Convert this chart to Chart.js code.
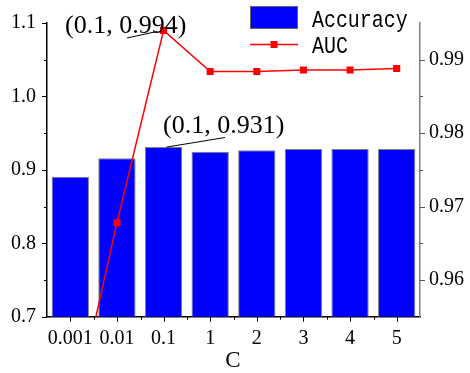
<!DOCTYPE html>
<html>
<head>
<meta charset="utf-8">
<script src="https://cdn.jsdelivr.net/npm/chart.js@4/dist/chart.umd.min.js"></script>
<style>
  html, body { margin: 0; padding: 0; background: #fff; }
  #wrap { width: 470px; height: 373px; }
</style>
</head>
<body>
<div id="wrap"><canvas id="chart" width="470" height="373"></canvas></div>
<script>
/* -------------------- DATA -------------------- */
const cValues = ["0.001", "0.01", "0.1", "1", "2", "3", "4", "5"];
const accuracy = [0.8906, 0.9157, 0.931, 0.9245, 0.9268, 0.9285, 0.9285, 0.9285];
const auc = [0.9394, 0.9678, 0.994, 0.9884, 0.9884, 0.9886, 0.9886, 0.9888];

const accTicks = [0.7, 0.8, 0.9, 1.0, 1.1];
const aucTicks = [0.96, 0.97, 0.98, 0.99];

// callouts: [category index, dataset, text]
const callouts = [
    { index: 2, series: "auc", text: "(0.1, 0.994)" },
    { index: 2, series: "acc", text: "(0.1, 0.931)" }
];

const SERIF = "'Liberation Serif', 'Times New Roman', serif";

/* -------------------- AXIS TICK MARKS (major + minor) -------------------- */
const tickMarks = {
    id: "tickMarks",
    afterDraw(chart) {
        const ctx = chart.ctx;
        const { x, y, y1 } = chart.scales;
        const area = chart.chartArea;
        ctx.save();
        ctx.lineWidth = 1;

        // left axis, outward
        ctx.strokeStyle = "#000";
        for (let v = 0.75; v < 1.1; v += 0.05) {
            const py = Math.round(y.getPixelForValue(v)) + 0.5;
            const major = Math.abs(v * 10 - Math.round(v * 10)) < 1e-6;
            ctx.beginPath();
            ctx.moveTo(area.left, py);
            ctx.lineTo(area.left - (major ? 5 : 3), py);
            ctx.stroke();
        }
        ctx.beginPath();
        ctx.moveTo(area.left, Math.round(area.top) + 0.5);
        ctx.lineTo(area.left - 5, Math.round(area.top) + 0.5);
        ctx.moveTo(area.left, Math.round(area.bottom) + 0.5);
        ctx.lineTo(area.left - 5, Math.round(area.bottom) + 0.5);
        ctx.stroke();

        // right axis, outward
        ctx.strokeStyle = "#555";
        for (let v = 0.96; v < 0.995; v += 0.005) {
            const py = Math.round(y1.getPixelForValue(v)) + 0.5;
            const major = Math.abs(v * 100 - Math.round(v * 100)) < 1e-6;
            ctx.beginPath();
            ctx.moveTo(area.right, py);
            ctx.lineTo(area.right + (major ? 5 : 3), py);
            ctx.stroke();
        }

        // bottom axis: centres major, boundaries minor
        ctx.strokeStyle = "#000";
        const half = (x.getPixelForValue(1) - x.getPixelForValue(0)) / 2;
        cValues.forEach((c, i) => {
            const px = Math.round(x.getPixelForValue(i)) + 0.5;
            ctx.beginPath();
            ctx.moveTo(px, area.bottom);
            ctx.lineTo(px, area.bottom + 5);
            ctx.stroke();
            if (i > 0) {
                const bx = Math.round(px - half) + 0.5;
                ctx.beginPath();
                ctx.moveTo(bx, area.bottom);
                ctx.lineTo(bx, area.bottom + 3);
                ctx.stroke();
            }
        });
        ctx.restore();
    }
};

/* -------------------- LEGEND, CALLOUTS, AXIS TITLE -------------------- */
const decorations = {
    id: "decorations",
    afterDraw(chart) {
        const ctx = chart.ctx;
        const { x, y, y1 } = chart.scales;
        ctx.save();

        // legend
        ctx.fillStyle = "#0000FF";
        ctx.fillRect(250, 6, 48, 23);
        ctx.strokeStyle = "#666";
        ctx.lineWidth = 1;
        ctx.strokeRect(250.5, 6.5, 47, 22);

        ctx.strokeStyle = "#FF0000";
        ctx.lineWidth = 1.5;
        ctx.beginPath();
        ctx.moveTo(250, 44.5);
        ctx.lineTo(298, 44.5);
        ctx.stroke();
        ctx.fillStyle = "#FF0000";
        ctx.fillRect(270.5, 41, 7, 7);

        ctx.fillStyle = "#000";
        ctx.font = "24px 'Liberation Mono', monospace";
        ctx.textBaseline = "alphabetic";
        ctx.save();
        ctx.translate(312, 0);
        ctx.scale(0.83, 1);
        ctx.fillText("Accuracy", 0, 26.5);
        ctx.fillText("AUC", 0, 53);
        ctx.restore();

        // callouts with leader lines
        ctx.font = "26px " + SERIF;
        ctx.strokeStyle = "#000";
        ctx.lineWidth = 1;
        callouts.forEach(c => {
            const px = x.getPixelForValue(c.index);
            if (c.series === "auc") {
                const py = y1.getPixelForValue(auc[c.index]);
                ctx.fillText(c.text, 65, 33);
                ctx.beginPath();
                ctx.moveTo(127, 38);
                ctx.lineTo(px - 6, py + 1);
                ctx.stroke();
            } else {
                const py = y.getPixelForValue(accuracy[c.index]);
                ctx.fillText(c.text, 163, 133);
                ctx.beginPath();
                ctx.moveTo(px + 3, py);
                ctx.lineTo(225, 137.5);
                ctx.stroke();
            }
        });

        // x axis title
        ctx.font = "23px " + SERIF;
        ctx.textAlign = "center";
        ctx.fillText("C", 233, 367);
        ctx.restore();
    }
};

/* -------------------- CHART -------------------- */
new Chart(document.getElementById("chart"), {
    type: "bar",
    data: {
        labels: cValues,
        datasets: [
            {
                type: "line",
                label: "AUC",
                data: auc,
                yAxisID: "y1",
                borderColor: "#FF0000",
                backgroundColor: "#FF0000",
                borderWidth: 1.5,
                pointStyle: "rect",
                pointRadius: 5,
                pointBorderWidth: 0,
                tension: 0,
                order: 0
            },
            {
                label: "Accuracy",
                data: accuracy,
                yAxisID: "y",
                backgroundColor: "#0000FF",
                borderColor: "#7f7f7f",
                borderWidth: 1,
                borderSkipped: false,
                barPercentage: 0.8,
                categoryPercentage: 1,
                order: 1
            }
        ]
    },
    options: {
        responsive: false,
        animation: false,
        devicePixelRatio: 1,
        layout: { padding: { top: 17.5, left: 0, right: 0, bottom: 0 } },
        plugins: {
            legend: { display: false },
            tooltip: { enabled: false }
        },
        scales: {
            x: {
                grid: { display: false, drawTicks: false },
                border: { display: true, color: "#000", width: 1.5 },
                ticks: {
                    color: "#000",
                    font: { family: SERIF, size: 20 },
                    padding: 10,
                    maxRotation: 0,
                    autoSkip: false
                },
                afterFit(scale) { scale.height = 56.3; }
            },
            y: {
                position: "left",
                min: 0.7,
                max: 1.1,
                grid: { display: false, drawTicks: false },
                border: { display: true, color: "#000", width: 1.5 },
                afterBuildTicks(scale) { scale.ticks = accTicks.map(v => ({ value: v })); },
                ticks: {
                    color: "#000",
                    font: { family: SERIF, size: 20 },
                    padding: 11,
                    callback: v => v.toFixed(1)
                },
                afterFit(scale) { scale.width = 47; }
            },
            y1: {
                position: "right",
                min: 0.955,
                max: 0.995,
                grid: { display: false, drawTicks: false },
                border: { display: true, color: "#808080", width: 1.5 },
                afterBuildTicks(scale) { scale.ticks = aucTicks.map(v => ({ value: v })); },
                ticks: {
                    color: "#000",
                    font: { family: SERIF, size: 20 },
                    padding: 9,
                    callback: v => v.toFixed(2)
                },
                afterFit(scale) { scale.width = 50; }
            }
        }
    },
    plugins: [tickMarks, decorations]
});
</script>
</body>
</html>
